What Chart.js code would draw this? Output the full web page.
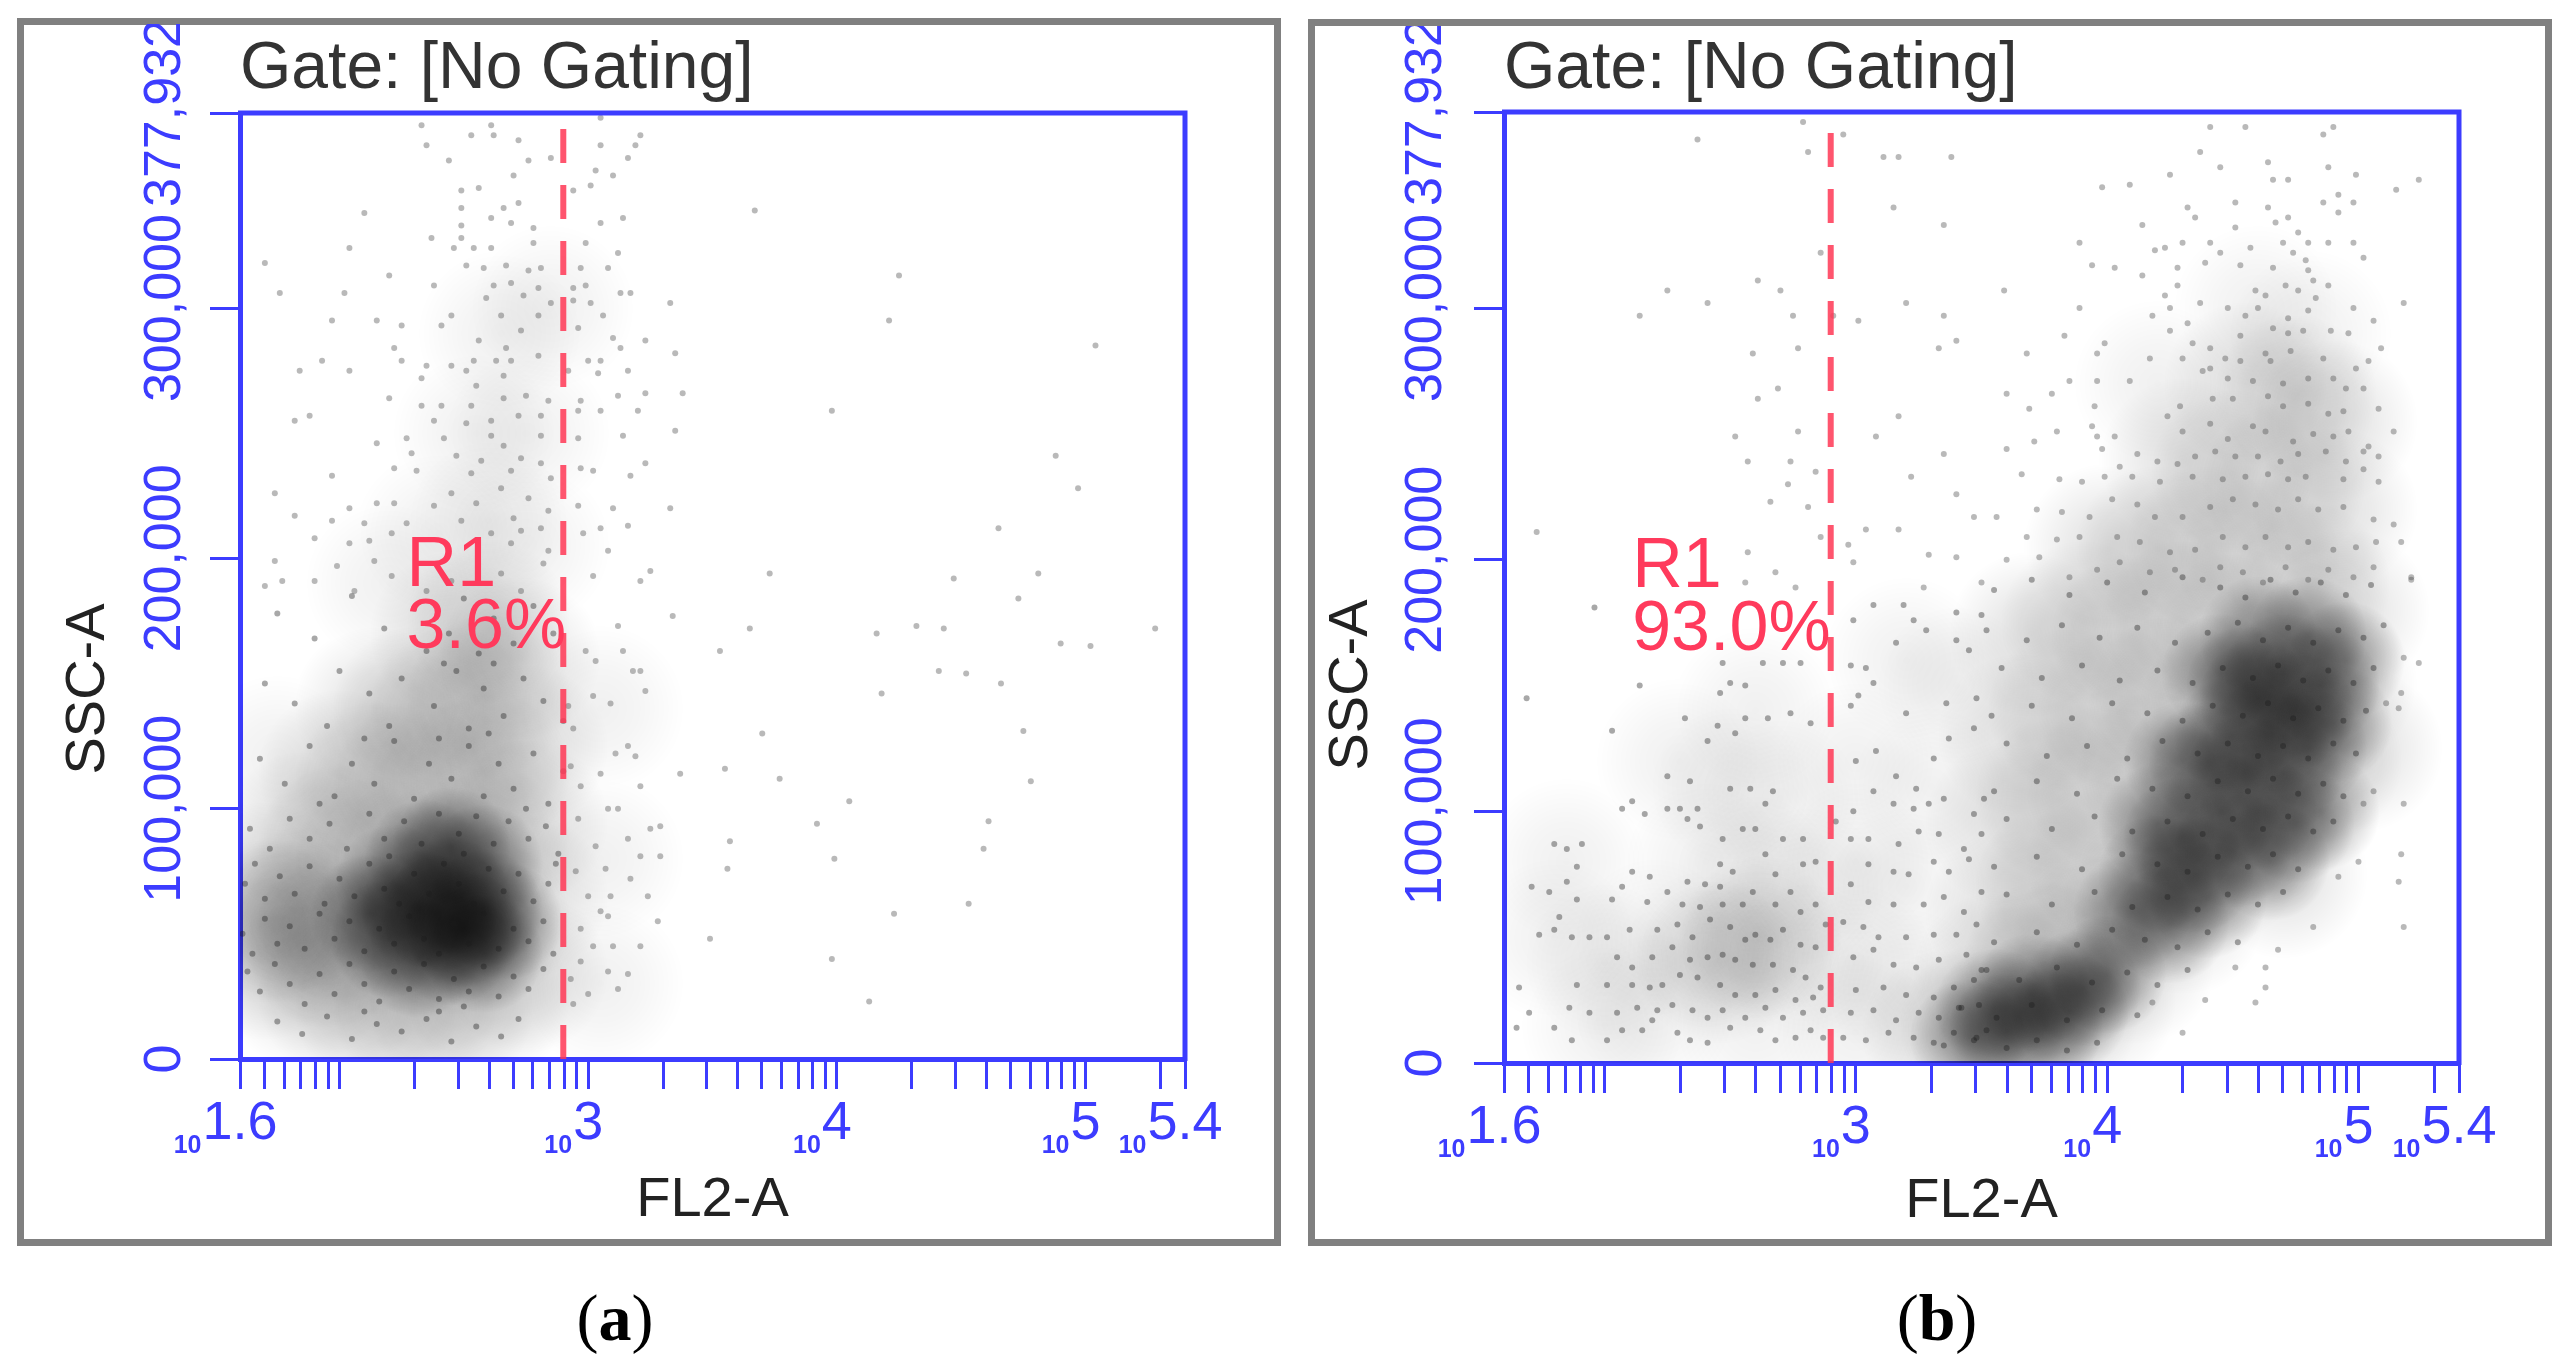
<!DOCTYPE html>
<html>
<head>
<meta charset="utf-8">
<title>FL2-A vs SSC-A</title>
<script src="https://cdn.jsdelivr.net/npm/chart.js@4.4.1/dist/chart.umd.min.js"></script>
<style>
  html, body { margin: 0; padding: 0; background: #fff; }
  body { position: relative; width: 2571px; height: 1364px; overflow: hidden; }
  .frame { position: absolute; box-sizing: border-box; border: 7px solid #808080; }
  canvas { position: absolute; }
  .cap { position: absolute; font-family: "Liberation Serif", "DejaVu Serif", serif; font-size: 66px; line-height: 1; transform: translate(-50%, -50%); color: #000; }
</style>
</head>
<body>
<div class="frame" style="left:17px;top:18px;width:1264px;height:1228px"></div>
<div class="frame" style="left:1308px;top:19px;width:1244px;height:1227px"></div>
<canvas id="panelA" width="1250" height="1210" style="left:24px;top:24px"></canvas>
<canvas id="panelB" width="1230" height="1213" style="left:1315px;top:26px"></canvas>
<div class="cap" style="left:615px;top:1318px">(<b>a</b>)</div>
<div class="cap" style="left:1937px;top:1318px">(<b>b</b>)</div>
<script>
// points are [log10(FL2-A), SSC-A in thousands]
var xMajorLog = [1.6, 3, 4, 5, 5.4];
var xMajorExp = ['1.6', '3', '4', '5', '5.4'];
var xMinor = [50, 60, 70, 80, 90, 100, 200, 300, 400, 500, 600, 700, 800, 900,
  2000, 3000, 4000, 5000, 6000, 7000, 8000, 9000,
  20000, 30000, 40000, 50000, 60000, 70000, 80000, 90000, 200000];
var yTicks = [0, 100000, 200000, 300000, 377932];
var yMax = 377932;
var gateLog = 2.9;

// ---- panel (a) ----
var aUpper = [[2.33,373],[2.61,373],[3.05,376],[2.53,369],[2.62,369],[2.72,367],[3.21,369],[2.35,365],[3.05,365],[3.19,365],[2.44,359],[2.76,359],[2.85,360],[3.16,360],[2.70,353],[3.03,355],[3.10,353],[2.49,347],[2.56,348],[2.94,347],[3.01,349],[2.72,342],[2.49,340],[2.61,336],[2.66,340],[2.10,338],[3.05,334],[3.14,336],[2.49,333],[2.69,334],[2.78,332],[2.37,328],[2.49,328],[2.78,326],[2.99,326],[2.04,324],[2.46,324],[2.54,324],[2.61,324],[3.12,322],[1.70,318],[2.20,313],[2.51,317],[2.58,316],[2.67,317],[2.76,315],[2.81,316],[2.97,316],[3.08,316],[2.38,309],[2.62,309],[2.69,310],[2.80,308],[2.94,308],[2.99,309],[3.13,306],[3.17,306],[1.76,306],[2.02,306],[2.59,304],[2.74,305],[2.85,302],[2.94,303],[3.01,302],[3.06,297],[3.33,302],[1.97,295],[2.15,295],[2.25,293],[2.41,293],[2.45,297],[2.65,297],[2.73,291],[2.80,297],[2.96,292],[3.10,288],[3.23,287],[2.22,284],[2.56,287],[2.67,284],[2.80,281],[3.13,284],[3.35,282],[1.93,279],[2.25,279],[2.35,277],[2.45,277],[2.54,279],[2.63,279],[2.69,279],[3.00,279],[3.05,279],[1.84,275],[2.04,275],[2.33,272],[2.51,275],[2.55,269],[2.66,273],[2.92,275],[3.04,274],[3.16,275],[2.20,264],[2.33,261],[2.41,261],[2.53,261],[2.66,264],[2.75,265],[2.84,263],[2.97,263],[3.12,265],[3.23,266],[3.38,266],[1.82,255],[1.88,257],[2.38,255],[2.51,254],[2.61,255],[2.72,257],[2.81,257],[2.96,259],[3.05,259],[3.20,259],[2.15,246],[2.27,248],[2.42,248],[2.61,249],[2.66,245],[2.81,249],[2.96,248],[3.14,249],[3.35,251],[2.29,242],[2.47,241],[2.57,239],[2.73,240],[2.81,238],[2.97,236],[3.23,238],[1.97,233],[2.22,236],[2.31,235],[2.53,234],[2.69,235],[2.85,232],[3.02,235],[3.17,233],[1.74,226],[2.15,222],[2.22,222],[2.38,221],[2.45,226],[2.55,222],[2.65,228],[2.76,224],[2.84,219],[2.96,221],[3.10,220],[3.33,220],[1.82,217],[1.97,215],[2.04,220],[2.10,214],[2.27,214],[2.49,215],[2.70,216],[2.73,211],[2.81,212],[3.05,212],[3.16,213],[1.90,208],[2.04,206],[2.12,207],[2.21,210],[2.61,210],[2.69,206],[2.84,203],[2.98,210],[3.08,203],[1.74,199],[1.99,197],[2.14,199],[2.21,193],[2.45,191],[2.65,194],[2.73,187],[2.82,198],[3.02,193],[3.21,191],[3.25,195],[1.70,189],[1.77,191],[1.90,191],[2.06,187],[2.35,187]];
var aNear = [[2.99,163],[3.03,159],[3.14,163],[3.21,155],[3.18,155],[3.34,177],[3.12,173],[3.02,145],[3.09,142],[3.23,147],[2.94,132],[3.16,125],[3.11,122],[3.19,121],[3.37,114],[3.05,114],[2.97,109],[3.21,109],[3.08,100],[3.12,100],[3.29,93],[3.25,92],[3.03,85],[3.16,88],[3.21,81],[3.29,81],[3.07,76],[3.17,72],[3.00,65],[3.09,65],[3.24,65],[3.08,57],[3.28,55],[3.02,45],[3.10,45],[3.21,45],[2.97,39],[3.08,35],[3.16,34],[3.00,26],[3.12,28],[2.94,22],[3.05,59],[2.96,96],[2.95,75],[2.97,52],[2.93,32],[2.92,141],[2.93,117]];
var aFar = [[3.67,339],[4.25,313],[4.21,295],[5.04,285],[3.98,259],[4.88,241],[4.97,228],[4.65,212],[3.73,194],[4.47,192],[4.81,194],[4.73,184],[4.16,170],[4.32,173],[4.43,172],[5.28,172],[3.65,172],[4.90,166],[5.02,165],[4.41,155],[4.52,154],[4.66,150],[4.18,146],[3.53,163],[3.70,130],[4.75,131],[3.55,116],[4.78,111],[3.77,112],[4.05,103],[3.92,94],[4.61,95],[3.57,87],[3.99,80],[4.59,84],[3.56,76],[4.23,58],[4.53,62],[3.49,48],[3.98,40],[4.13,23]];
var aCloud = [[2.05,185],[2.30,180],[2.50,184],[2.62,176],[2.78,181],[2.44,170],[2.18,172],[2.70,166],[2.86,170],[1.75,178],[1.90,168],[2.56,162],[2.35,163],
  [1.70,150],[1.82,142],[2.00,155],[2.12,146],[2.25,152],[2.38,141],[2.47,155],[2.58,148],[2.66,137],[2.74,152],[2.82,143],[2.90,135],[2.20,133],[2.52,132],[1.95,133],[2.42,158],[2.62,158],
  [1.68,120],[1.78,110],[1.88,125],[1.98,105],[2.05,118],[2.14,110],[2.22,127],[2.30,104],[2.36,118],[2.45,112],[2.52,125],[2.58,105],[2.64,118],[2.70,108],[2.78,122],[2.84,102],[2.90,115],[2.40,128],[2.10,128],[1.92,102],[2.60,130],[2.75,100],
  [1.64,92],[1.72,84],[1.80,96],[1.88,88],[1.96,94],[2.03,84],[2.12,98],[2.18,88],[2.26,95],[2.33,86],[2.40,98],[2.48,90],[2.55,97],[2.62,86],[2.68,95],[2.76,88],[2.83,93],[2.88,82],[2.50,82],[2.20,81],
  [1.62,70],[1.66,78],[1.70,64],[1.76,73],[1.82,66],[1.88,77],[1.94,62],[2.00,72],[2.06,65],[2.12,78],[2.18,68],[2.24,62],[2.30,74],[2.36,66],[2.42,78],[2.48,70],[2.54,62],[2.60,76],[2.66,67],[2.72,74],[2.78,63],[2.84,70],[2.87,78],
  [1.61,50],[1.65,42],[1.70,56],[1.75,46],[1.80,53],[1.86,44],[1.92,58],[1.98,48],[2.04,55],[2.10,43],[2.16,52],[2.22,46],[2.28,57],[2.34,48],[2.40,42],[2.46,54],[2.52,46],[2.58,58],[2.64,44],[2.70,52],[2.76,47],[2.82,55],[2.86,42],
  [1.63,35],[1.68,27],[1.74,38],[1.80,30],[1.86,22],[1.92,34],[1.98,26],[2.04,38],[2.10,30],[2.16,23],[2.22,35],[2.28,28],[2.34,38],[2.40,24],[2.46,32],[2.52,27],[2.58,37],[2.64,25],[2.70,33],[2.76,28],[2.82,36],[2.50,21],
  [1.75,15],[1.85,10],[1.95,17],[2.05,8],[2.15,14],[2.25,11],[2.35,16],[2.45,7],[2.55,13],[2.65,9],[2.72,16],[2.10,19],[2.40,19]];
var aCore = [[2.20,48],[2.22,70],[2.32,40],[2.32,60],[2.34,80],[2.45,45],[2.45,65],[2.45,85],[2.58,42],[2.58,60],[2.58,78],[2.66,55],[2.40,58],[2.50,52],[2.12,58]];
var aShade = [[1.70,40],[1.70,70],[1.85,30],[1.85,60],[1.85,90],[2.00,25],[2.00,55],[2.00,85],[2.00,115],[2.15,20],[2.15,50],[2.15,80],[2.15,110],[2.15,140],[2.30,20],[2.30,50],[2.30,80],[2.30,110],[2.30,140],[2.45,20],[2.45,50],[2.45,80],[2.45,110],[2.45,140],[2.45,170],[2.60,25],[2.60,55],[2.60,85],[2.60,115],[2.60,145],[2.60,175],[2.75,35],[2.75,65],[2.75,95],[2.75,125],[2.72,160],[1.80,55],[1.95,45],[1.70,55]];
var aHaze = [[2.40,210],[2.60,215],[2.75,205],[2.55,250],[2.75,250],[2.65,290],[2.85,300],[3.05,140],[3.05,80],[3.05,30],[2.20,190],[1.75,120]];

// ---- panel (b) ----
var bUpper = [[2.37,367],[2.79,374],[2.81,362],[2.95,369],[3.11,360],[3.17,360],[3.38,360],[3.15,340],[3.35,333],[2.86,322],[2.61,311],[2.70,307],[2.25,307],[2.41,302],[2.14,297],[2.75,297],[2.91,297],[3.01,295],[3.20,302],[3.35,297],[2.77,284],[2.59,282],[3.33,284],[3.40,287],[2.69,268],[2.61,264],[3.17,257],[2.52,249],[2.77,251],[3.08,249],[2.57,239],[2.74,239],[2.84,235],[3.35,242],[3.22,233],[2.73,230],[2.66,223],[2.81,221],[3.40,226],[3.47,217],[1.73,211],[2.86,209],[2.97,206],[3.04,212],[3.17,212],[3.29,202],[3.40,201],[2.99,199],[2.57,203],[2.68,195],[2.56,191],[2.76,189],[3.27,189],[3.50,191],
  [4.41,372],[4.55,372],[4.86,369],[4.90,372],[4.37,362],[4.25,353],[4.45,356],[4.64,358],[4.88,356],[4.99,353],[5.24,351],[5.15,347],[3.98,348],[4.09,349],[4.66,351],[4.72,351],[4.32,340],[4.51,342],[4.64,340],[4.86,342],[4.92,345],[4.98,342],[4.92,338],[4.14,333],[4.35,336],[4.51,332],[4.67,334],[4.72,336],[4.76,330],[3.89,326],[4.19,323],[4.23,324],[4.30,326],[4.41,326],[4.45,322],[4.57,324],[4.70,326],[4.80,326],[4.88,326],[4.98,326],[5.02,320],[3.94,317],[4.03,316],[4.14,313],[4.28,316],[4.39,318],[4.53,317],[4.66,316],[4.74,322],[4.79,319],[4.80,315],[4.82,311],[4.88,309],[3.59,307],[4.28,309],[4.23,305],[4.37,302],[4.48,300],[4.59,307],[4.63,305],[4.71,309],[4.76,307],[4.83,304],[4.98,300],[5.18,302],[3.89,300],[4.18,297],[4.25,300],[4.32,294],[4.55,297],[4.60,300],[4.72,296],[4.80,299],[5.06,295],[3.83,289],[3.99,286],[4.25,291],[4.34,286],[4.41,284],[4.53,289],[4.66,292],[4.72,290],[4.78,291],[4.89,291],[4.96,290],[3.68,282],[3.96,282],[4.17,280],[4.30,280],[4.41,276],[4.47,280],[4.53,279],[4.63,282],[4.65,279],[4.73,283],[4.86,280],[4.99,276],[5.04,279],[5.09,284],[3.60,266],[3.78,266],[3.85,271],[3.96,271],[4.09,271],[4.38,275],[4.48,272],[4.58,271],[4.70,270],[4.80,272],[4.90,272],[4.95,268],[5.02,268],[3.69,260],[3.95,261],[4.24,257],[4.29,261],[4.42,264],[4.50,264],[4.64,265],[4.70,261],[4.80,262],[4.88,258],[4.94,259],[5.08,260],[3.71,247],[3.80,251],[3.94,253],[3.96,249],[4.03,249],[4.30,251],[4.41,254],[4.48,248],[4.58,253],[4.63,251],[4.74,247],[4.82,250],[4.90,249],[4.96,251],[5.04,245],[5.14,251],[3.60,244],[3.98,244],[4.12,242],[4.20,239],[4.28,238],[4.35,241],[4.43,243],[4.51,241],[4.60,241],[4.69,239],[4.76,242],[4.87,243],[4.95,239],[5.02,243],[5.08,241],[3.66,234],[3.81,232],[3.90,231],[3.99,233],[4.05,237],[4.10,233],[4.21,231],[4.34,233],[4.46,232],[4.55,233],[4.64,234],[4.72,232],[4.79,233],[4.94,232],[5.02,236],[5.08,231],[3.56,217],[3.72,220],[3.82,219],[3.93,217],[4.02,224],[4.12,222],[4.19,217],[4.30,217],[4.41,221],[4.50,224],[4.59,222],[4.68,220],[4.76,224],[4.84,220],[4.94,221],[5.06,216],[5.14,214],[3.68,209],[3.80,208],[3.89,209],[4.04,209],[4.13,207],[4.25,203],[4.35,204],[4.46,209],[4.55,205],[4.63,209],[4.72,205],[4.80,207],[4.90,204],[4.99,205],[5.07,207],[5.17,207],[3.60,200],[3.73,201],[3.85,193],[3.96,196],[4.05,199],[4.17,195],[4.27,196],[4.38,192],[4.45,197],[4.54,195],[4.62,191],[4.71,197],[4.80,192],[4.88,196],[4.98,193],[5.06,197],[5.21,192]];
var bOut = [[5.21,193],[5.18,161],[5.24,159],[5.17,147],[5.16,141],[5.11,143],[5.18,103],[5.17,83],[5.16,72],[5.18,54],[4.82,54],[4.68,45],[4.51,38],[4.63,38],[4.63,30],[4.59,24],[4.39,25],[4.30,12],[4.18,24],[5.00,80],[4.92,74],[5.06,108],[5.02,103]];
var bLeft = [[1.96,181],[1.69,145],[2.14,150],[2.03,132],[2.32,137],[2.41,128],[2.25,114],[2.34,112],[2.46,147],[2.50,151],[2.56,150],[2.45,134],[2.52,131],[2.56,137],[2.65,137],[2.74,139],[2.82,135],[2.63,159],[2.71,159],[2.78,159],[2.47,159],
  [2.07,101],[2.11,104],[2.16,99],[2.25,101],[2.30,101],[2.37,101],[2.33,97],[2.38,94],[2.50,109],[2.58,109],[2.67,108],[2.64,103],[2.55,93],[2.60,93],[2.71,89],[2.79,89],[2.47,89],[2.46,79],[2.51,76],[2.64,83],[2.40,71],[2.46,70],[2.68,75],[2.74,68],[2.79,79],[2.84,80],
  [1.80,87],[1.85,85],[1.91,87],[1.89,78],[1.71,70],[1.78,68],[1.85,72],[1.89,65],[1.82,58],
  [2.11,76],[2.18,74],[2.03,65],[2.07,70],[2.17,64],[2.25,68],[2.33,72],[2.31,63],[2.38,62],[2.47,63],[2.55,63],[2.59,68],[2.68,63],[2.78,60],[2.84,63],
  [1.74,51],[1.80,53],[1.87,50],[1.94,50],[2.01,50],[2.10,53],[2.21,53],[2.29,55],[2.35,50],[2.42,57],[2.50,54],[2.56,49],[2.60,51],[2.66,49],[2.71,53],[2.78,47],[2.84,46],[2.88,55],
  [2.05,42],[2.11,38],[2.19,42],[2.27,46],[2.34,41],[2.41,42],[2.47,43],[2.52,41],[2.59,39],[2.67,39],[2.75,37],[2.80,34],[2.86,30],
  [1.66,30],[1.89,31],[2.01,31],[2.11,31],[2.18,30],[2.23,31],[2.30,35],[2.37,34],[2.46,31],[2.52,27],[2.60,27],[2.68,29],[2.76,25],[2.83,26],
  [1.70,20],[1.86,22],[1.94,20],[2.05,20],[2.13,22],[2.21,21],[2.27,23],[2.35,21],[2.41,18],[2.47,21],[2.56,18],[2.64,22],[2.71,18],[2.79,20],[2.87,21],
  [1.65,14],[1.80,14],[1.87,9],[2.01,9],[2.07,13],[2.15,13],[2.19,17],[2.29,12],[2.34,9],[2.41,8],[2.50,14],[2.62,13],[2.68,9],[2.76,10],[2.82,13],[2.87,10],
  [2.99,176],[3.07,182],[3.19,182],[3.23,176],[3.28,172],[3.40,179],[3.50,178],[3.16,167],[3.40,168],[3.45,164],[2.98,158],[3.04,157],[3.07,151],[3.01,146],[2.98,142],[3.20,139],[3.36,143],[3.48,145],[3.47,133],[3.08,124],[3.00,120],[3.31,121],[3.37,129],[3.16,114],[3.24,109],[3.35,105],[3.51,105],[3.07,108],[2.99,100],[3.15,103],[3.23,101],[3.29,103],[3.47,99],[2.92,96],[3.05,89],[2.98,89],[3.17,87],[3.25,92],[3.33,91],[3.43,85],[3.50,91],[3.05,79],[3.15,76],[3.21,75],[3.31,80],[3.37,76],[3.45,81],[2.98,71],[3.05,64],[3.15,63],[3.27,63],[3.35,66],[3.43,60],[3.50,68],[2.95,56],[3.03,54],[3.09,50],[3.20,50],[3.31,51],[3.40,51],[3.48,55],[2.99,42],[3.07,45],[3.15,39],[3.24,38],[3.33,41],[3.44,43],[3.52,37],[3.00,29],[3.11,30],[3.20,27],[3.31,26],[3.39,30],[3.47,33],[2.98,20],[3.07,21],[3.16,17],[3.25,20],[3.33,18],[3.41,22],[3.49,23],[2.95,10],[3.04,9],[3.13,12],[3.23,10],[3.31,8],[3.39,12],[3.47,9],[3.52,13]];
var bDense = [[3.55,188],[3.70,192],[3.85,186],[4.00,191],[4.15,187],[4.30,193],[4.45,189],[4.55,185],[4.65,192],[4.75,187],[4.85,191],[4.95,186],[5.05,190],
  [3.52,172],[3.68,168],[3.82,174],[3.97,169],[4.12,173],[4.27,167],[4.40,171],[4.52,175],[4.62,168],[4.72,173],[4.82,167],[4.92,172],[5.02,169],[5.10,174],
  [3.58,157],[3.74,153],[3.90,158],[4.05,152],[4.20,156],[4.34,151],[4.46,157],[4.58,153],[4.68,158],[4.78,152],[4.88,156],[4.98,151],[5.06,157],
  [3.54,138],[3.70,142],[3.86,137],[4.02,143],[4.16,139],[4.30,136],[4.42,142],[4.54,138],[4.64,143],[4.74,137],[4.84,141],[4.94,136],[5.03,140],
  [3.60,127],[3.76,122],[3.92,126],[4.08,121],[4.22,128],[4.36,123],[4.48,127],[4.60,122],[4.70,126],[4.80,121],[4.90,127],[4.99,123],
  [3.55,108],[3.72,112],[3.88,107],[4.04,113],[4.18,109],[4.32,106],[4.44,112],[4.56,108],[4.66,113],[4.76,107],[4.86,111],[4.94,106],
  [3.60,97],[3.78,93],[3.95,98],[4.10,92],[4.24,96],[4.38,91],[4.50,97],[4.62,93],[4.72,98],[4.82,92],[4.90,96],
  [3.55,78],[3.72,82],[3.90,77],[4.06,83],[4.20,79],[4.32,76],[4.44,82],[4.56,78],[4.66,83],[4.76,77],
  [3.60,67],[3.78,63],[3.95,68],[4.10,62],[4.24,66],[4.36,61],[4.48,67],[4.60,63],[4.70,68],
  [3.55,48],[3.72,52],[3.88,47],[4.02,53],[4.15,49],[4.28,46],[4.40,52],[4.52,48],
  [3.50,37],[3.65,33],[3.80,38],[3.94,32],[4.08,36],[4.20,31],[4.32,37],
  [3.42,22],[3.56,18],[3.70,23],[3.84,17],[3.98,21],[4.12,19],
  [3.35,7],[3.48,10],[3.60,6],[3.72,9],[3.84,5],[3.96,8]];
var bCore = [[4.20,75],[4.30,90],[4.35,75],[4.45,100],[4.50,85],[4.55,115],[4.60,100],[4.65,130],[4.70,115],[4.75,140],[4.80,125],[4.70,155],[4.85,150],[4.80,170],[4.60,145],[4.40,120],[4.50,130],[4.10,60],[4.25,55],[4.65,80],[4.40,65],[4.90,135],[4.75,95],[4.30,120],[4.55,150],[4.85,100],[4.95,160],[4.60,170],[4.45,155],[4.20,95],[3.45,10],[3.60,12],[3.75,14],[3.55,22],[3.85,20],[3.70,28],[4.00,35],[3.90,30]];
var bShade = [[3.35,12],[3.50,15],[3.65,15],[3.80,18],[3.95,25],[3.55,35],[3.75,40],[3.95,50],[4.10,40],[4.15,65],[4.30,60],[3.60,60],[3.80,70],[4.00,80],[4.30,90],[4.45,80],[3.60,95],[3.80,105],[4.00,110],[4.20,115],[4.40,110],[4.60,95],[4.70,75],[3.65,130],[3.85,140],[4.05,140],[4.25,145],[4.45,140],[4.65,130],[4.85,120],[3.70,170],[3.90,175],[4.10,170],[4.30,175],[4.50,170],[4.70,160],[4.90,150],[5.00,125],[4.00,205],[4.20,205],[4.40,205],[4.60,200],[4.80,190],[4.95,180],[4.30,240],[4.50,235],[4.70,230],[4.90,220],[4.55,270],[4.75,265],[4.90,255],[2.62,50],[2.45,40]];
var bHaze = [[1.80,50],[2.00,40],[2.20,50],[2.40,45],[2.60,45],[2.80,40],[2.40,80],[2.60,75],[2.80,70],[2.50,110],[2.70,105],[2.00,15],[2.20,20],[2.60,15],[3.00,12],[3.00,40],[3.20,30],[3.00,80],[3.20,70],[3.00,120],[3.30,110],[3.20,160],[3.40,150],[1.85,80],[2.30,120],[2.60,140],[4.60,300],[4.80,290],[4.20,270]];

var BLUE = '#3c3cff';
var RED = '#ff3a5c';
var xMajor = xMajorLog.map(function (e) { return Math.pow(10, e); });
var xTicks = xMajor.concat(xMinor).sort(function (p, q) { return p - q; });

function pts(arr) {
  return arr.map(function (p) { return { x: Math.pow(10, p[0]), y: p[1] * 1000 }; });
}
function commas(v) {
  return String(Math.round(v)).replace(/\B(?=(\d{3})+(?!\d))/g, ',');
}
// soft round marker used for the density shading
function softMarker(r, peak) {
  var c = document.createElement('canvas');
  c.width = c.height = 2 * r;
  var g = c.getContext('2d');
  var grd = g.createRadialGradient(r, r, 0, r, r, r);
  grd.addColorStop(0, 'rgba(0,0,0,' + peak + ')');
  grd.addColorStop(0.45, 'rgba(0,0,0,' + (peak * 0.65) + ')');
  grd.addColorStop(1, 'rgba(0,0,0,0)');
  g.fillStyle = grd;
  g.fillRect(0, 0, 2 * r, 2 * r);
  return c;
}
function dots(data, r, color) {
  return { data: pts(data), pointRadius: r, pointHoverRadius: r, pointBackgroundColor: color, pointBorderWidth: 0, clip: 0 };
}
function shade(data, r, peak) {
  return { data: pts(data), pointRadius: r, pointHoverRadius: r, pointStyle: softMarker(r, peak), clip: 0 };
}

function makePanel(cfg) {
  var decor = {
    id: 'decor',
    afterDraw: function (chart) {
      var ctx = chart.ctx, a = chart.chartArea, sx = chart.scales.x, sy = chart.scales.y;
      ctx.save();
      // top and right sides of the plot box
      ctx.strokeStyle = BLUE;
      ctx.lineWidth = 5;
      ctx.beginPath();
      ctx.moveTo(a.left - 2, a.top);
      ctx.lineTo(a.right, a.top);
      ctx.lineTo(a.right, a.bottom + 2);
      ctx.stroke();
      // the small "10" in front of each exponent
      ctx.fillStyle = BLUE;
      xMajor.forEach(function (v, i) {
        ctx.font = '54px "Liberation Sans"';
        var w = ctx.measureText(xMajorExp[i]).width;
        var px = sx.getPixelForValue(v);
        ctx.font = 'bold 25px "Liberation Sans"';
        ctx.textAlign = 'right';
        ctx.textBaseline = 'alphabetic';
        ctx.fillText('10', px - w / 2 - 1, a.bottom + 94);
      });
      // title
      ctx.fillStyle = '#333';
      ctx.font = '66px "Liberation Sans"';
      ctx.textAlign = 'left';
      ctx.fillText('Gate: [No Gating]', a.left, cfg.titleY);
      // axis titles
      ctx.fillStyle = '#222';
      ctx.font = '56px "Liberation Sans"';
      ctx.textAlign = 'center';
      ctx.fillText('FL2-A', (a.left + a.right) / 2, cfg.xTitleY);
      ctx.save();
      ctx.translate(cfg.yTitle[0], cfg.yTitle[1]);
      ctx.rotate(-Math.PI / 2);
      ctx.textBaseline = 'middle';
      ctx.fillText('SSC-A', 0, 0);
      ctx.restore();
      // region label
      ctx.fillStyle = RED;
      ctx.font = '70px "Liberation Sans"';
      ctx.textAlign = 'left';
      ctx.textBaseline = 'alphabetic';
      var rx = sx.getPixelForValue(Math.pow(10, cfg.labelLog));
      ctx.fillText('R1', rx, sy.getPixelForValue(189000));
      ctx.fillText(cfg.pct, rx, sy.getPixelForValue(164000));
      ctx.restore();
    }
  };

  return new Chart(document.getElementById(cfg.id), {
    type: 'scatter',
    data: {
      datasets: [
        { data: [{ x: Math.pow(10, gateLog), y: 0 }, { x: Math.pow(10, gateLog), y: yMax }],
          showLine: true, pointRadius: 0, borderColor: 'rgba(255,55,85,0.85)', borderWidth: 6,
          borderDash: [34, 22], clip: 0 },
        dots(cfg.sparse, 3, 'rgba(70,70,70,0.38)'),
        dots(cfg.cloud, 3, 'rgba(25,25,25,0.38)'),
        shade(cfg.core, 60, cfg.corePeak),
        shade(cfg.shade, 85, cfg.shadePeak),
        shade(cfg.haze, 85, 0.06)
      ]
    },
    options: {
      responsive: false,
      animation: false,
      devicePixelRatio: 1,
      events: [],
      layout: { padding: { left: 0, top: cfg.padTop, right: cfg.padRight, bottom: 0 } },
      plugins: { legend: { display: false }, tooltip: { enabled: false } },
      scales: {
        x: {
          type: 'logarithmic',
          min: xMajor[0],
          max: xMajor[xMajor.length - 1],
          afterBuildTicks: function (s) { s.ticks = xTicks.map(function (v) { return { value: v }; }); },
          afterFit: function (s) { s.height = cfg.xAxisH; s.paddingLeft = 0; s.paddingRight = 0; },
          ticks: {
            autoSkip: false, minRotation: 0, maxRotation: 0, padding: 3, color: BLUE,
            font: { family: 'Liberation Sans', size: 54 },
            callback: function (v) {
              for (var i = 0; i < xMajor.length; i++) {
                if (Math.abs(Math.log10(v) - xMajorLog[i]) < 1e-6) return xMajorExp[i];
              }
              return '';
            }
          },
          grid: { drawOnChartArea: false, drawTicks: true, tickLength: 30, color: BLUE, lineWidth: 3 },
          border: { color: BLUE, width: 5 }
        },
        y: {
          min: 0,
          max: yMax,
          afterBuildTicks: function (s) { s.ticks = yTicks.map(function (v) { return { value: v }; }); },
          afterFit: function (s) { s.width = cfg.yAxisW; s.paddingTop = 0; s.paddingBottom = 0; },
          ticks: {
            autoSkip: false, minRotation: 90, maxRotation: 90, crossAlign: 'center', padding: cfg.yPad, color: BLUE,
            font: { family: 'Liberation Sans', size: 52 },
            callback: function (v) { return commas(v); }
          },
          grid: { drawOnChartArea: false, drawTicks: true, tickLength: 30, color: BLUE, lineWidth: 3 },
          border: { color: BLUE, width: 5 }
        }
      }
    },
    plugins: [decor]
  });
}

makePanel({
  id: 'panelA',
  sparse: aUpper.concat(aNear, aFar),
  cloud: aCloud, core: aCore, shade: aShade, haze: aHaze,
  corePeak: 0.4, shadePeak: 0.12,
  padTop: 89, padRight: 89, yAxisW: 216, xAxisH: 175, yPad: -50,
  titleY: 64, xTitleY: 1192, yTitle: [65, 665], labelLog: 2.27, pct: '3.6%'
});
makePanel({
  id: 'panelB',
  sparse: bUpper.concat(bOut),
  cloud: bLeft.concat(bDense), core: bCore, shade: bShade, haze: bHaze,
  corePeak: 0.33, shadePeak: 0.12,
  padTop: 80, padRight: 85, yAxisW: 189, xAxisH: 176, yPad: -47,
  titleY: 62, xTitleY: 1191, yTitle: [37, 659], labelLog: 2.11, pct: '93.0%'
});
</script>
</body>
</html>
